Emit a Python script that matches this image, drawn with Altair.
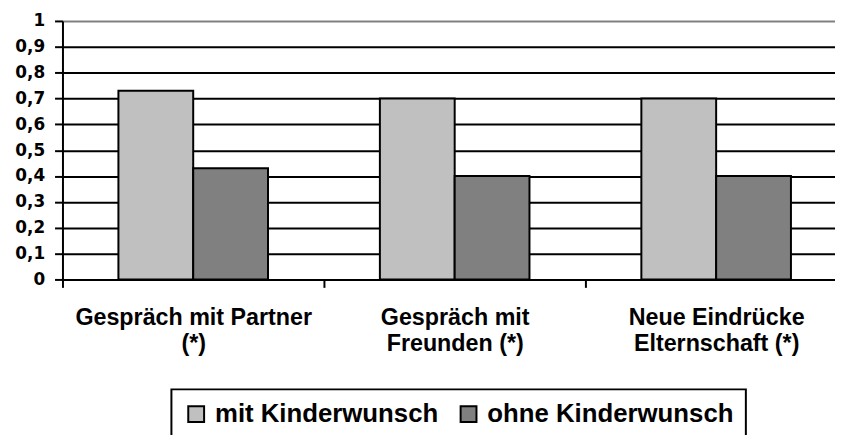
import altair as alt
import pandas as pd

# ---- data ----
categories = ["Gespräch mit Partner|(*)", "Gespräch mit|Freunden (*)", "Neue Eindrücke|Elternschaft (*)"]
series = ["mit Kinderwunsch", "ohne Kinderwunsch"]
mit_values = [0.73, 0.70, 0.70]
ohne_values = [0.43, 0.40, 0.40]
y_ticks = [0, 0.1, 0.2, 0.3, 0.4, 0.5, 0.6, 0.7, 0.8, 0.9, 1]
colors = ["#C0C0C0", "#808080"]

rows = []
for cat, m, o in zip(categories, mit_values, ohne_values):
    rows.append({"category": cat, "series": series[0], "value": m})
    rows.append({"category": cat, "series": series[1], "value": o})
df = pd.DataFrame(rows)

bars = alt.Chart(df).mark_bar(stroke="black", strokeWidth=2).encode(
    x=alt.X(
        "category:N",
        sort=categories,
        scale=alt.Scale(paddingInner=0, paddingOuter=0, range=[0, 792]),
        axis=alt.Axis(
            title=None,
            labelAngle=0,
            labelExpr="split(datum.label, '|')",
            labelFont="Liberation Sans",
            labelFontWeight="bold",
            labelFontSize=23.5,
            labelLineHeight=27,
            labelColor="black",
            labelPadding=18,
            labelLimit=0,
            tickBand="extent",
            tickSize=8,
            tickWidth=2,
            tickColor="black",
            domainColor="black",
            domainWidth=2,
            grid=False,
        ),
    ),
    xOffset=alt.XOffset(
        "series:N", sort=series, scale=alt.Scale(paddingInner=0, paddingOuter=0.748)
    ),
    y=alt.Y(
        "value:Q",
        scale=alt.Scale(domain=[0, 1], nice=False),
        axis=alt.Axis(
            title=None,
            values=y_ticks,
            labelExpr="replace(format(datum.value, '.1~f'), '.', ',')",
            labelFont="DejaVu Sans",
            labelFontWeight="bold",
            labelFontSize=17,
            labelColor="black",
            labelPadding=10,
            tickSize=8,
            tickWidth=2,
            tickColor="black",
            domainColor="black",
            domainWidth=2,
            grid=True,
            gridWidth=2,
            gridColor={"condition": {"test": "datum.value >= 1", "value": "#808080"}, "value": "black"},
        ),
    ),
    color=alt.Color(
        "series:N",
        sort=series,
        scale=alt.Scale(domain=series, range=colors),
        legend=alt.Legend(
            title=None,
            orient="none",
            direction="horizontal",
            legendX=110,
            legendY=372,
            symbolType="square",
            symbolSize=256,
            symbolStrokeColor="black",
            symbolStrokeWidth=2,
            labelFont="Liberation Sans",
            labelFontWeight="bold",
            labelFontSize=26,
            labelColor="black",
            labelLimit=0,
            labelOffset=6,
            columnPadding=17,
            padding=12,
            strokeColor="black",
        ),
    ),
)

chart = bars.properties(
    width=780,
    height=261,
    autosize=alt.AutoSizeParams(type="none"),
    padding={"left": 55, "top": 11, "right": 0, "bottom": 155},
).configure_view(strokeWidth=0).configure_legend(strokeWidth=2)

chart.save("out.html", embed_options={"renderer": "svg", "actions": False})
